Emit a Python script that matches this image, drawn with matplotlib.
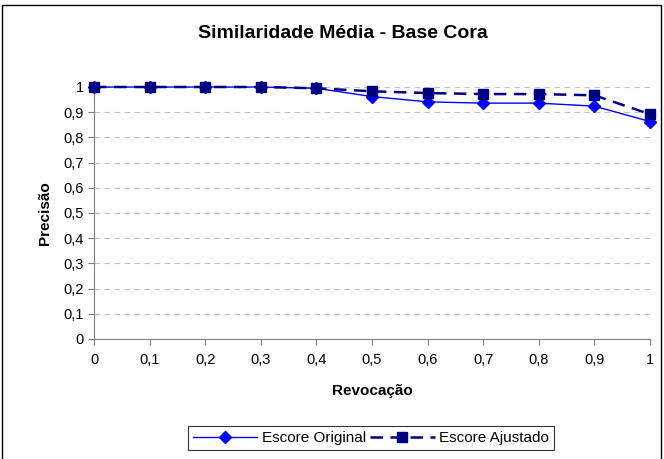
import matplotlib
matplotlib.use("Agg")
import matplotlib.pyplot as plt
from matplotlib.patches import Rectangle
from matplotlib.ticker import FuncFormatter

plt.rcParams["font.family"] = ["Liberation Sans", "DejaVu Sans"]

# data
recall = [0.0, 0.1, 0.2, 0.3, 0.4, 0.5, 0.6, 0.7, 0.8, 0.9, 1.0]
original = [1.0, 1.0, 1.0, 1.0, 0.995, 0.962, 0.941, 0.936, 0.936, 0.924, 0.863]
ajustado = [1.0, 1.0, 1.0, 1.0, 0.995, 0.983, 0.976, 0.972, 0.972, 0.967, 0.892]

fig = plt.figure(figsize=(6.64, 4.59), dpi=100)
ax = fig.add_axes([94 / 664, 120 / 459, 556 / 664, 252 / 459])

# outer chart frame
fig.patches.append(Rectangle((2 / 664, -0.01), 659 / 664, 1.0, transform=fig.transFigure,
                             fill=False, edgecolor="black", linewidth=1.0))

ax.plot(recall, original, color="#0000FF", linewidth=1.0, marker="D", markersize=6,
        label="Escore Original", clip_on=False, zorder=3)
ax.plot(recall, ajustado, color="#000080", linewidth=1.8, linestyle=(0, (5, 3)),
        marker="s", markersize=6.5, label="Escore Ajustado", clip_on=False, zorder=4)

ax.set_xlim(0, 1)
ax.set_ylim(0, 1)
ax.set_xticks(recall)
ax.set_yticks([i / 10 for i in range(11)])
fmt = FuncFormatter(lambda v, _: f"{v:.1f}".rstrip("0").rstrip(".").replace(".", ",") if v not in (0, 1) else str(int(v)))
ax.xaxis.set_major_formatter(fmt)
ax.yaxis.set_major_formatter(fmt)
ax.tick_params(labelsize=10.5, color="#808080", length=4, direction="out")
ax.tick_params(axis="x", pad=6)
ax.grid(axis="y", color="#C0C0C0", linestyle=(0, (5, 4)), linewidth=0.8)
for s in ("top", "right"):
    ax.spines[s].set_visible(False)
for s in ("left", "bottom"):
    ax.spines[s].set_color("#808080")

fig.text(343 / 664, 1 - 33 / 459, "Similaridade Média - Base Cora", fontsize=14,
         fontweight="bold", ha="center", va="center")
ax.set_xlabel("Revocação", fontsize=11, fontweight="bold", labelpad=12)
ax.set_ylabel("Precisão", fontsize=11, fontweight="bold", labelpad=8)

leg = fig.legend(loc="center", bbox_to_anchor=(371 / 664, 1 - 438 / 459), ncol=2,
                 fontsize=11, frameon=True, fancybox=False, handlelength=4.2,
                 columnspacing=0.3, handletextpad=0.3, borderpad=0.3)
leg.get_frame().set_edgecolor("black")
leg.get_frame().set_linewidth(0.8)

fig.savefig("out.png", dpi=100)
